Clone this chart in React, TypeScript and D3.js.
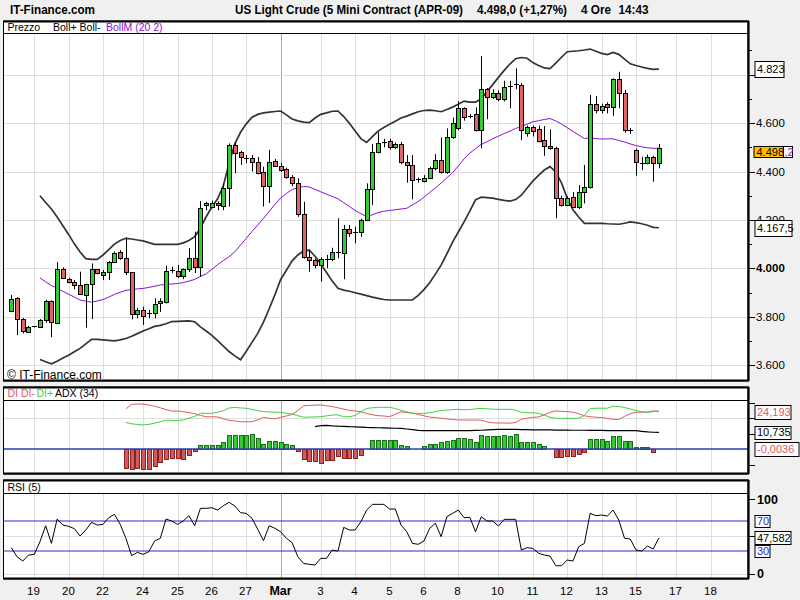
import React from "react";
import * as d3 from "d3";

const FONT = "'Liberation Sans', Arial, Helvetica, sans-serif";

// ---- price candles (4h bars) ----
const openP = [3824,3876,3789,3738,3758,3759,3786,3865,3773,3996,3955,3942,3931,3890,3934,3996,3971,3983,4027,4068,4041,3983,3810,3828,3814,3814,3855,3862,3990,3990,3970,3996,4041,4007,4263,4252,4271,4257,4331,4509,4479,4453,4455,4438,4397,4341,4445,4422,4409,4376,4354,4223,4048,4034,4012,4037,4038,4064,4062,4161,4148,4150,4200,4326,4482,4516,4526,4502,4512,4438,4426,4365,4360,4374,4413,4448,4397,4544,4578,4661,4627,4637,4572,4740,4707,4725,4698,4751,4758,4757,4560,4582,4574,4530,4505,4496,4289,4262,4293,4255,4317,4335,4678,4654,4680,4668,4781,4723,4572,4489,4437,4436,4461,4434];
const highP = [3890,3881,3795,3762,3762,3790,3870,3868,4025,4004,3961,3952,3986,3936,4020,3996,3993,4030,4070,4075,4128,3983,3837,3841,3828,3876,3876,4011,4007,4014,4000,4083,4151,4278,4275,4280,4277,4350,4516,4520,4485,4468,4468,4460,4420,4489,4452,4435,4416,4385,4372,4275,4076,4040,4045,4055,4085,4207,4179,4179,4172,4205,4351,4514,4562,4535,4535,4520,4522,4468,4468,4375,4385,4420,4472,4541,4578,4623,4690,4665,4637,4665,4877,4745,4740,4735,4775,4775,4826,4765,4590,4590,4590,4588,4574,4502,4300,4298,4315,4344,4427,4716,4712,4680,4686,4785,4812,4737,4580,4495,4461,4470,4465,4514];
const lowP = [3820,3724,3731,3733,3755,3757,3775,3715,3773,3958,3938,3913,3890,3755,3790,3975,3952,3952,4025,4035,3972,3789,3793,3766,3793,3793,3820,3855,3980,3960,3955,3985,3980,3965,4240,4248,4240,4240,4255,4393,4427,4434,4400,4388,4255,4270,4420,4398,4370,4339,4213,4040,3986,4000,3945,4000,4030,4041,3955,4130,4103,4130,4195,4262,4475,4500,4490,4493,4430,4354,4285,4354,4355,4370,4405,4392,4390,4535,4570,4610,4620,4565,4496,4616,4700,4690,4690,4661,4740,4530,4544,4545,4520,4465,4490,4207,4255,4257,4250,4245,4268,4330,4640,4640,4640,4630,4661,4560,4555,4383,4406,4430,4358,4413];
const closeP = [3872,3789,3741,3756,3760,3786,3865,3777,3996,3961,3945,3931,3893,3934,3996,3979,3983,4027,4064,4041,3983,3810,3828,3804,3816,3851,3864,3990,3992,3970,3996,4041,4007,4248,4268,4269,4261,4331,4509,4478,4459,4456,4438,4395,4341,4441,4424,4406,4376,4354,4223,4048,4034,4012,4038,4039,4066,4066,4161,4145,4150,4200,4326,4482,4516,4523,4500,4512,4438,4426,4365,4367,4374,4413,4448,4397,4544,4599,4661,4624,4630,4572,4740,4707,4723,4698,4750,4753,4760,4572,4582,4568,4526,4507,4496,4289,4262,4292,4255,4317,4335,4678,4654,4671,4668,4781,4723,4572,4570,4438,4436,4461,4434,4498];

// ---- Bollinger (20,2), first value at bar 5 ----
const BAND_START = 5;
const bollUpper = [4300,4272,4245,4212,4176,4140,4101,4067,4040,4037,4037,4055,4077,4100,4115,4124,4121,4117,4113,4106,4099,4099,4099,4099,4099,4105,4115,4131,4166,4213,4253,4287,4341,4434,4514,4562,4597,4624,4636,4642,4645,4648,4650,4634,4617,4609,4604,4602,4621,4636,4642,4649,4650,4627,4599,4567,4536,4520,4544,4567,4582,4595,4608,4621,4629,4638,4647,4652,4654,4651,4647,4656,4666,4678,4691,4687,4687,4700,4730,4759,4789,4818,4844,4866,4871,4868,4850,4838,4828,4825,4848,4872,4895,4897,4899,4902,4906,4897,4888,4883,4892,4884,4864,4845,4838,4832,4826,4822,4823];
const bollMid = [3960,3944,3929,3917,3905,3893,3881,3869,3864,3860,3865,3871,3881,3892,3901,3909,3912,3915,3917,3921,3926,3931,3933,3935,3937,3941,3947,3954,3966,3977,3996,4015,4032,4048,4068,4096,4124,4152,4179,4206,4235,4264,4291,4309,4326,4333,4338,4336,4326,4316,4306,4297,4287,4271,4255,4239,4226,4214,4221,4230,4236,4239,4242,4245,4248,4262,4276,4294,4313,4332,4352,4374,4395,4423,4452,4476,4494,4512,4523,4535,4546,4557,4567,4578,4585,4596,4605,4610,4615,4619,4609,4596,4581,4566,4551,4536,4539,4536,4534,4535,4535,4528,4522,4514,4507,4502,4498,4496,4496.2];
const bollLower = [3623,3614,3605,3616,3629,3641,3655,3669,3688,3706,3706,3704,3702,3700,3704,3710,3719,3730,3741,3750,3760,3764,3771,3780,3781,3782,3783,3779,3758,3741,3723,3701,3678,3656,3638,3622,3657,3694,3731,3778,3833,3891,3954,3992,4031,4055,4072,4075,4050,4018,3983,3947,3917,3910,3905,3899,3893,3887,3881,3876,3871,3869,3869,3869,3869,3869,3888,3912,3940,3976,4013,4060,4108,4150,4192,4236,4283,4294,4292,4290,4285,4281,4278,4284,4302,4332,4360,4384,4406,4420,4398,4353,4290,4242,4212,4186,4186,4186,4186,4184,4183,4182,4186,4192,4189,4184,4178,4169,4167.5];

// ---- DI / ADX (34), first DI value at bar 20, ADX at bar 53 ----
const DI_START = 20;
const diMinus = [25.9,28.8,29.0,29.0,28.4,27.6,26.6,25.4,24.5,24.5,24.1,23.5,22.8,21.7,20.8,20.8,20.7,19.5,18.5,18.1,17.6,17.6,17.6,18.8,20.4,19.8,19.5,20.4,21.3,22.3,24.8,27.9,28.1,28.3,28.4,27.9,27.4,26.6,25.7,24.9,24.5,24.0,23.0,22.1,21.5,21.3,20.9,22.4,24.0,23.5,23.1,22.3,21.4,20.6,20.3,19.8,19.4,19.0,18.7,18.7,18.7,18.7,18.6,17.5,16.9,16.8,16.8,16.6,17.2,19.2,19.9,20.4,20.7,22.0,23.6,24.6,24.3,24.1,23.7,22.8,21.4,20.8,20.5,20.3,19.7,19.2,19.0,21.0,22.8,23.7,23.7,23.7,24.6,24.193];
const diPlus = [17.1,16.3,15.8,15.5,15.9,16.6,17.6,18.6,18.5,18.3,18.8,19.9,21.0,23.0,23.0,23.0,23.7,24.6,26.5,26.8,26.5,26.3,25.5,24.7,24.1,23.9,23.8,23.7,23.1,22.5,21.5,20.5,20.6,20.7,20.8,21.4,21.9,22.0,20.8,20.8,21.6,24.0,26.2,26.6,26.9,26.9,26.9,26.1,25.0,24.0,23.1,23.0,23.0,23.4,24.1,24.8,25.1,25.4,25.6,25.3,25.4,25.9,26.2,25.9,25.7,25.6,25.6,25.6,25.0,23.7,23.5,23.3,23.1,21.8,20.5,19.8,19.8,19.8,19.8,19.8,21.7,26.1,26.3,26.3,26.3,27.6,27.4,26.8,25.8,24.9,24.1,23.7,24.1,24.5];
const ADX_START = 53;
const adx = [14.4,15.1,15.2,14.9,14.7,14.6,14.4,14.3,14.1,13.9,13.8,13.7,13.6,13.5,13.4,13.3,12.9,12.5,12.0,11.8,11.8,11.8,11.8,11.8,11.8,11.8,11.8,11.8,12.0,12.1,12.3,12.5,12.6,12.7,12.6,12.6,12.5,12.5,12.4,12.4,12.3,12.3,12.2,12.2,12.2,12.1,12.1,12.1,12.0,12.0,12.0,11.9,11.9,11.9,11.8,11.8,11.8,11.4,11.0,10.8,10.735];
const diHist = [-12.5,-13.1,-12.5,-13.1,-13.1,-11.0,-8.2,-6.6,-6.0,-6.0,-6.6,-3.9,-1.3,2.6,2.6,2.6,2.6,4.7,9.0,9.0,9.0,9.0,9.7,6.9,3.0,5.0,5.0,4.3,3.0,2.6,-1.3,-6.6,-7.7,-7.7,-9.2,-7.1,-7.1,-4.3,-6.0,-6.0,-6.0,-3.9,0,5.8,5.8,5.8,5.8,5.8,2.6,1.9,0,0,1.9,3.2,3.2,4.7,5.4,5.8,6.9,6.9,6.3,4.7,9.0,8.4,8.4,8.4,9.0,8.4,9.7,4.7,4.7,4.7,3.2,1.9,0,-5.4,-5.4,-4.5,-4.5,-3.2,-1.7,6.3,6.3,6.3,5.4,8.4,8.4,5.4,5.4,1.1,1.1,1.1,-1.7,-0.0036];

// ---- RSI (5) ----
const rsi = [34.4,22.4,16.6,24.6,25.5,42.4,63.7,40.2,72.6,64.6,62.9,59.8,50.0,58.0,68.2,64.6,65.5,74.4,78.9,65.5,46.9,23.7,28.2,25.5,29.1,43.3,46.9,72.6,70.0,65.5,70.0,77.1,63.7,86.9,86.9,87.7,84.6,90.4,94.9,90.0,81.1,80.2,73.5,58.9,43.7,63.7,60.2,55.7,46.9,41.1,22.4,13.5,12.2,11.3,20.2,20.2,31.3,30.0,61.5,58.0,58.0,69.1,84.6,92.2,92.2,92.2,86.0,86.0,64.6,55.7,40.2,38.9,43.3,60.2,66.9,49.1,75.7,80.2,84.6,74.4,74.9,55.7,75.7,70.0,70.0,63.3,72.2,72.2,72.2,31.3,34.4,33.5,26.9,24.6,23.3,10.4,10.4,18.0,16.6,35.7,40.2,80.2,77.1,78.0,76.6,84.6,71.3,46.9,46.0,31.3,30.0,36.6,32.6,47.582];

// ---- axes ----
const dayTickIdx = [4,10,16,23,29,35,41,47,54,60,66,72,78,85,91,97,103,109,116,122];
const dayTickLbl = ["19","20","22","24","25","26","27","Mar","3","4","5","6","8","10","11","12","13","15","17","18"];
const priceTicks = [3600,3800,4000,4200,4400,4600,4800];
const priceLabelTicks = [3600,3800,4000,4400,4600];
const priceMinor = [3700,3900,4100,4300,4500,4700,4900];

const GREEN = "#33cc33";
const RED = "#e06464";
const PURPLE = "#8a10d8";
const BLUE = "#2b2bd0";

function fmtPrice(v: number) {
  return (v / 1000).toFixed(3);
}

export default function App() {
  const x = d3.scaleLinear().domain([0, 122]).range([11.3, 710.5]);
  const yP = d3.scaleLinear().domain([3600, 4600]).range([365.1, 123.1]);
  const yD = d3.scaleLinear().domain([0, 30]).range([449, 402.5]);
  const yR = d3.scaleLinear().domain([0, 100]).range([573.5, 498.5]);

  const PL = 3.5, PR = 748;
  const MAIN = { top: 21, hdr: 33, bottom: 381 };
  const DIP = { top: 387, hdr: 400, bottom: 474 };
  const RSIP = { top: 480, hdr: 493, bottom: 579 };
  const idx = d3.range(closeP.length);
  const cxOf = (i: number) => Math.round(x(i));

  const mkLine = (arr: number[], off: number, ys: any) =>
    d3.line<number>().x((_d, k) => x(k + off)).y((d) => ys(d))(arr) || "";

  const panels = [MAIN, DIP, RSIP];

  const vGrid = (p: any) =>
    dayTickIdx.map((t, k) => (
      <line key={"vg" + k} x1={cxOf(t) + 0.5} x2={cxOf(t) + 0.5} y1={p.hdr} y2={p.bottom}
        stroke={dayTickLbl[k] === "Mar" ? "#a8a8a8" : "#dedede"} strokeWidth={1} />
    ));

  const box = (key: string, xx: number, yc: number, w: number, h: number, txt: string, color: string, fill = "#fff") => (
    <g key={key}>
      <rect x={xx + 0.5} y={Math.round(yc - h / 2) + 0.5} width={w} height={h} fill={fill} stroke="#000" strokeWidth={1} />
      <text x={xx + 2.5} y={yc + 4} fontSize={11} fill={color} fontFamily={FONT}>{txt}</text>
    </g>
  );

  return (
    <svg width={800} height={600} style={{ position: "absolute", left: 0, top: 0, display: "block" }} fontFamily={FONT}>
      <defs>
        <clipPath id="clipMain"><rect x={PL} y={MAIN.hdr} width={PR - PL} height={MAIN.bottom - MAIN.hdr} /></clipPath>
        <clipPath id="clipDI"><rect x={PL} y={DIP.hdr} width={PR - PL} height={DIP.bottom - DIP.hdr} /></clipPath>
        <clipPath id="clipRSI"><rect x={PL} y={RSIP.hdr} width={PR - PL} height={RSIP.bottom - RSIP.hdr} /></clipPath>
        <clipPath id="clip4200"><rect x={750} y={208} width={50} height={12} /></clipPath>
      </defs>
      <rect x={0} y={0} width={800} height={600} fill="#f0f0f1" />

      {/* title */}
      <text x={10} y={13.5} fontSize={13} fontWeight="bold" textLength={85} lengthAdjust="spacingAndGlyphs">IT-Finance.com</text>
      <text x={235} y={13.5} fontSize={12.5} fontWeight="bold" textLength={228} lengthAdjust="spacingAndGlyphs">US Light Crude (5 Mini Contract (APR-09)</text>
      <text x={477} y={13.5} fontSize={12.5} fontWeight="bold" textLength={90} lengthAdjust="spacingAndGlyphs">4.498,0 (+1,27%)</text>
      <text x={581} y={13.5} fontSize={12.5} fontWeight="bold" textLength={30} lengthAdjust="spacingAndGlyphs">4 Ore</text>
      <text x={618.5} y={13.5} fontSize={12.5} fontWeight="bold" textLength={30} lengthAdjust="spacingAndGlyphs">14:43</text>

      {/* panel backgrounds */}
      {panels.map((p, k) => (
        <rect key={"bg" + k} x={PL} y={p.top} width={PR - PL} height={p.bottom - p.top} fill="#fff" />
      ))}

      {/* ===== MAIN PANEL ===== */}
      {vGrid(MAIN)}
      {priceTicks.map((p) => (
        <line key={"hg" + p} x1={PL} x2={PR} y1={Math.round(yP(p)) + 0.5} y2={Math.round(yP(p)) + 0.5} stroke="#dedede" />
      ))}
      <g clipPath="url(#clipMain)">
        <path d={mkLine(bollUpper, BAND_START, yP)} fill="none" stroke="#333" strokeWidth={1.7} />
        <path d={mkLine(bollLower, BAND_START, yP)} fill="none" stroke="#333" strokeWidth={1.7} />
        <path d={mkLine(bollMid, BAND_START, yP)} fill="none" stroke={PURPLE} strokeWidth={1} />
        {idx.map((i) => {
          const o = openP[i], c = closeP[i], h = highP[i], l = lowP[i];
          const cx = cxOf(i);
          const up = c >= o;
          const yTop = Math.round(yP(Math.max(o, c)));
          const yBot = Math.round(yP(Math.min(o, c)));
          return (
            <g key={"c" + i}>
              <line x1={cx + 0.5} x2={cx + 0.5} y1={yP(h)} y2={yP(l)} stroke="#000" strokeWidth={1} />
              {yBot - yTop < 2 ? (
                <line x1={cx - 2} x2={cx + 3} y1={yTop + 0.5} y2={yTop + 0.5} stroke="#000" strokeWidth={1} />
              ) : (
                <rect x={cx - 1.5} y={yTop + 0.5} width={4} height={yBot - yTop} fill={up ? GREEN : RED} stroke="#000" strokeWidth={1} />
              )}
            </g>
          );
        })}
      </g>
      <text x={7} y={379} fontSize={12} fill="#000">© IT-Finance.com</text>
      {/* header */}
      <line x1={PL} x2={PR} y1={MAIN.hdr + 0.5} y2={MAIN.hdr + 0.5} stroke="#000" />
      <text x={7.5} y={30.5} fontSize={10.5}>Prezzo</text>
      <text x={53} y={30.5} fontSize={10.5}>Boll+ Boll-</text>
      <text x={106} y={30.5} fontSize={10.5} fill={PURPLE}>BollM (20 2)</text>

      {/* ===== DI PANEL ===== */}
      {vGrid(DIP)}
      <line x1={PL} x2={PR} y1={Math.round(yD(20)) + 0.5} y2={Math.round(yD(20)) + 0.5} stroke="#dedede" />
      <g clipPath="url(#clipDI)">
        {diHist.map((v, k) => {
          const i = k + DI_START;
          if (Math.abs(v) < 0.5) return null;
          const cx = cxOf(i);
          const y0 = yD(0), y1 = yD(v);
          const top = Math.round(Math.min(y0, y1)), bot = Math.round(Math.max(y0, y1));
          return (
            <rect key={"h" + k} x={cx - 1.5} y={top + 0.5} width={4} height={Math.max(1, bot - top)}
              fill={v > 0 ? GREEN : "#d25a5a"} stroke={v > 0 ? "#1c6e1c" : "#8a2424"} strokeWidth={1} />
          );
        })}
        <line x1={PL} x2={PR} y1={yD(0)} y2={yD(0)} stroke="#2a3cb0" strokeWidth={1.6} />
        <path d={mkLine(diMinus, DI_START, yD)} fill="none" stroke="#e05a5a" strokeWidth={1} />
        <path d={mkLine(diPlus, DI_START, yD)} fill="none" stroke="#3fcf3f" strokeWidth={1} />
        <path d={mkLine(adx, ADX_START, yD)} fill="none" stroke="#000" strokeWidth={1.2} />
      </g>
      <line x1={PL} x2={PR} y1={DIP.hdr + 0.5} y2={DIP.hdr + 0.5} stroke="#000" />
      <text x={7.5} y={397} fontSize={10.5} fill="#e05a5a">DI DI-</text>
      <text x={36.5} y={397} fontSize={10.5} fill="#3fcf3f">DI+</text>
      <text x={55} y={397} fontSize={10.5} fill="#000">ADX (34)</text>

      {/* ===== RSI PANEL ===== */}
      {vGrid(RSIP)}
      {[0, 50].map((v) => (
        <line key={"rg" + v} x1={PL} x2={PR} y1={Math.round(yR(v)) + 0.5} y2={Math.round(yR(v)) + 0.5} stroke="#dedede" />
      ))}
      <g clipPath="url(#clipRSI)">
        {[70, 30].map((v) => (
          <line key={"rb" + v} x1={PL} x2={PR} y1={yR(v)} y2={yR(v)} stroke={BLUE} strokeWidth={1.2} />
        ))}
        <path d={mkLine(rsi, 0, yR)} fill="none" stroke="#000" strokeWidth={1} />
      </g>
      <line x1={PL} x2={PR} y1={RSIP.hdr + 0.5} y2={RSIP.hdr + 0.5} stroke="#000" />
      <text x={7.5} y={490.5} fontSize={10.5}>RSI (5)</text>

      {/* panel borders */}
      {panels.map((p, k) => (
        <g key={"bd" + k}>
          <rect x={PL} y={p.top} width={PR - PL} height={p.bottom - p.top} fill="none" stroke="#000" strokeWidth={1} />
          <line x1={PL} x2={PR + 1} y1={p.top + 0.5} y2={p.top + 0.5} stroke="#000" strokeWidth={2} />
          <line x1={PL} x2={PR + 1} y1={p.bottom - 0.5} y2={p.bottom - 0.5} stroke="#000" strokeWidth={2} />
          <line x1={PR + 0.5} x2={PR + 0.5} y1={p.top} y2={p.bottom} stroke="#000" strokeWidth={2.2} />
        </g>
      ))}

      {/* main right axis */}
      {priceTicks.map((p) => (
        <line key={"pt" + p} x1={PR} x2={PR + 7} y1={Math.round(yP(p)) + 0.5} y2={Math.round(yP(p)) + 0.5} stroke="#000" />
      ))}
      {priceLabelTicks.map((p) => (
        <text key={"pl" + p} x={756} y={yP(p) + 4} fontSize={11.5} fontWeight={p === 4000 ? "bold" : "normal"}>{fmtPrice(p)}</text>
      ))}
      {priceMinor.map((p) => (
        <line key={"pm" + p} x1={PR} x2={PR + 4} y1={Math.round(yP(p)) + 0.5} y2={Math.round(yP(p)) + 0.5} stroke="#000" />
      ))}
      {/* 4.200 label mostly hidden by the lower-band box in the reference: only its top part shows */}
      <text x={756} y={yP(4200) + 4} fontSize={11.5} clipPath="url(#clip4200)">{fmtPrice(4200)}</text>
      {box("bu", 754.5, yP(4823), 29, 16, "4.823", "#000")}
      {box("bl", 754.5, yP(4167.5), 37, 16, "4.167,5", "#000")}
      <g>
        <rect x={754.5} y={146.5} width={38} height={11} fill="#fff" stroke="#000" />
        <text x={784.5} y={156} fontSize={11} fill={PURPLE}>,2</text>
        <rect x={754} y={146.5} width={29.5} height={11} fill="#ffbf00" stroke="#000" />
        <text x={756.5} y={156} fontSize={11} fill="#000">4.498</text>
      </g>

      {/* DI right axis */}
      {[30, 20, 10, -10].map((v) => (
        <line key={"dt" + v} x1={PR} x2={PR + 7} y1={Math.round(yD(v)) + 0.5} y2={Math.round(yD(v)) + 0.5} stroke="#000" />
      ))}
      {box("d1", 754.5, yD(24.193), 36, 14, "24,193", "#e05a5a")}
      {box("d2", 754.5, yD(10.735), 36, 13, "10,735", "#000")}
      {box("d3", 754.5, yD(-0.0036), 44, 14, "-0,0036", "#e05a5a")}

      {/* RSI right axis */}
      {[100, 50, 0].map((v) => (
        <line key={"rt" + v} x1={PR} x2={PR + 7} y1={Math.round(yR(v)) + 0.5} y2={Math.round(yR(v)) + 0.5} stroke="#000" />
      ))}
      <text x={757} y={yR(100) + 5} fontSize={12.5} fontWeight="bold">100</text>
      <text x={757} y={yR(0) + 4} fontSize={12.5} fontWeight="bold">0</text>
      {box("r70", 754.5, yR(70), 15, 12, "70", BLUE)}
      {box("rv", 754.5, yR(47.582), 36, 13, "47,582", "#000")}
      {box("r30", 754.5, yR(30), 15, 12, "30", BLUE)}

      {/* x axis labels */}
      {dayTickIdx.map((t, k) => (
        <text key={"xl" + k} x={cxOf(t) - 0.5} y={595} fontSize={dayTickLbl[k] === "Mar" ? 12.5 : 11.5}
          fontWeight={dayTickLbl[k] === "Mar" ? "bold" : "normal"} textAnchor="middle">{dayTickLbl[k]}</text>
      ))}
    </svg>
  );
}
